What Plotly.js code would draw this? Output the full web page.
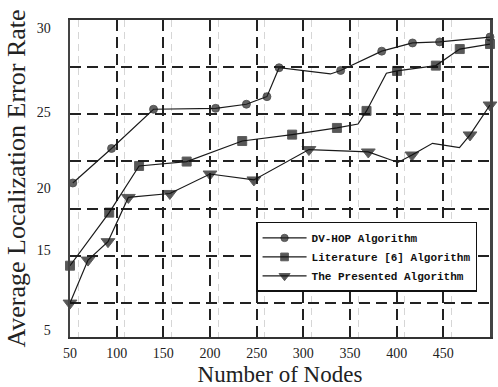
<!DOCTYPE html>
<html>
<head>
<meta charset="utf-8">
<script src="https://cdn.plot.ly/plotly-3.0.1.min.js"></script>
<style>
  html, body { margin: 0; padding: 0; background: #fff; }
  #chart { width: 498px; height: 387px; }
</style>
</head>
<body>
<div id="chart"></div>
<script>
// ---- data ----
const seriesNames = ["DV-HOP Algorithm", "Literature [6] Algorithm", "The Presented Algorithm"];

const dvX = [53, 94.5, 139.5, 206, 239, 261, 274, 329, 340, 384, 417, 446, 500];
const dvY = [20.33, 22.60, 25.18, 25.24, 25.51, 26.01, 27.91, 27.50, 27.73, 29.00, 29.54, 29.61, 29.93];

const litX = [50, 92, 124, 175, 234.5, 288, 336, 358.6, 367.7, 389, 400.4, 442, 467.6, 500];
const litY = [14.89, 18.38, 21.45, 21.74, 23.09, 23.51, 23.95, 24.21, 25.07, 27.55, 27.70, 28.05, 29.14, 29.47];

const preX = [50, 69.3, 90.7, 112.5, 157, 200, 247, 306, 369.6, 401.4, 416.4, 438.4, 467.3, 478.6, 500];
const preY = [12.43, 15.26, 16.47, 19.38, 19.64, 20.92, 20.53, 22.53, 22.37, 21.68, 22.17, 22.94, 22.65, 23.49, 25.46];

// y tick labels as printed in the figure
const yTickText = ["5", "15", "20", "25", "30"];

// ---- styling / layout ----
// points that are only bends of the line (no symbol drawn in the figure)
const dvBends = [7], litBends = [7, 9], preBends = [9, 11, 12];
function sizes(n, size, bends) {
  const s = [];
  for (let i = 0; i < n; i++) s.push(bends.indexOf(i) >= 0 ? 0 : size);
  return s;
}

const lineCol = "#1a1a1a";
const traces = [
  { x: dvX, y: dvY, name: seriesNames[0], mode: "lines+markers", cliponaxis: false,
    line: { color: lineCol, width: 1.2 },
    marker: { symbol: "circle", size: sizes(dvX.length, 8, dvBends), color: "#222", line: { color: "#000", width: 0.8 } } },
  { x: litX, y: litY, name: seriesNames[1], mode: "lines+markers", cliponaxis: false,
    line: { color: lineCol, width: 1.2 },
    marker: { symbol: "square", size: sizes(litX.length, 9, litBends), color: "#111" } },
  { x: preX, y: preY, name: seriesNames[2], mode: "lines+markers", cliponaxis: false,
    line: { color: lineCol, width: 1.2 },
    marker: { symbol: "triangle-down", size: sizes(preX.length, 12, preBends), color: "#111" } }
];

const yRange = [10.2, 31.05];
const serif = "Liberation Serif, Times New Roman, serif";
const gridDash = "11px,6px";

// horizontal dashed grid positions (evenly spaced in the scan)
const yGrid = [];
for (let v = 12.43; v < 31; v += 3.105) yGrid.push(+v.toFixed(3));
// faint ghost vertical grid seen in the scan
const xGhost = [];
for (let v = 58.6; v < 500; v += 50) xGhost.push(v);

const layout = {
  width: 498, height: 387,
  margin: { l: 70, r: 8, t: 20, b: 50, pad: 0 },
  paper_bgcolor: "#fff", plot_bgcolor: "#fff",
  showlegend: true,
  legend: {
    x: 0.443, y: 0.363, xanchor: "left", yanchor: "top",
    bgcolor: "#fff", bordercolor: "#111", borderwidth: 1.5,
    font: { family: "Liberation Mono, DejaVu Sans Mono, monospace", size: 11, color: "#111", weight: "bold" },
    itemwidth: 44, tracegroupgap: 0
  },
  xaxis: {
    range: [50, 500], tick0: 0, dtick: 50,
    showgrid: true, gridcolor: "#222", gridwidth: 2, griddash: gridDash,
    minor: { tickmode: "array", tickvals: xGhost, showgrid: true, gridcolor: "#d6d6d6", gridwidth: 1, griddash: "7px,5px", ticks: "" },
    zeroline: false, showline: true, mirror: true, linecolor: "#333", linewidth: 2,
    ticks: "", ticklabelstandoff: 2,
    tickfont: { family: serif, size: 14, color: "#222" },
    title: { text: "Number of Nodes", font: { family: serif, size: 23, color: "#222" }, standoff: 6 }
  },
  yaxis: {
    range: yRange,
    tickmode: "array", tickvals: [10.66, 15.92, 20, 25, 30.53], ticktext: yTickText,
    showgrid: false,
    minor: { tickmode: "array", tickvals: yGrid, showgrid: true, gridcolor: "#222", gridwidth: 2, griddash: gridDash, ticks: "" },
    zeroline: false, showline: true, mirror: true, linecolor: "#444", linewidth: 2.5,
    ticks: "", ticklabelstandoff: 14,
    tickfont: { family: serif, size: 14, color: "#222" },
    title: { text: "Average Localization Error Rate", font: { family: serif, size: 26, color: "#222" }, standoff: 4 }
  }
};

Plotly.newPlot("chart", traces, layout, { staticPlot: true, displayModeBar: false });
</script>
</body>
</html>
